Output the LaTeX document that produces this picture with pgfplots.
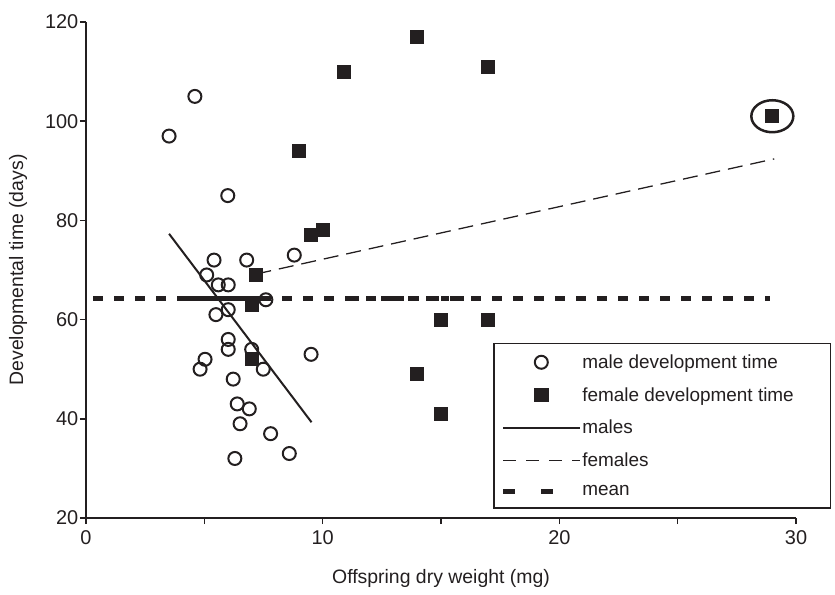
\documentclass[border=0pt]{standalone}
\usepackage{pgfplots}
\pgfplotsset{compat=1.18}
\usepackage{fontspec}
\setmainfont{Liberation Sans}
\definecolor{ink}{RGB}{35,31,32}
\begin{document}
\begin{tikzpicture}
\begin{axis}[
  at={(0,0)}, anchor=south west,
  scale only axis, width=710bp, height=496bp,
  xmin=0, xmax=30, ymin=20, ymax=120,
  axis x line*=bottom, axis y line*=left,
  xtick={0,5,...,30}, xticklabels={0,,10,,20,,30},
  ytick={20,40,...,120},
  tick align=outside, major tick length=6bp,
  tick style={line width=1.5bp, ink},
  axis line style={line width=1.8bp, ink},
  /pgf/number format/assume math mode=true,
  ticklabel style={font=\fontsize{20}{24}\selectfont, text=ink},
  yticklabel style={inner xsep=1.5bp},
  xticklabel style={inner ysep=6bp},
  xlabel={Offspring dry weight (mg)},
  ylabel={Developmental time (days)},
  label style={font=\fontsize{19.5}{23}\selectfont, text=ink},
  xlabel style={at={(axis description cs:0.5,-0.121)}, anchor=center},
  ylabel style={at={(axis description cs:-0.0958,0.5)}, anchor=center},
  legend style={at={(axis cs:17.2,55.3)}, anchor=north west, draw=ink, line width=1.5bp,
    fill=white, font=\fontsize{19}{22}\selectfont, text=ink,
    inner xsep=7bp, inner ysep=10bp, row sep=15.5bp,
    nodes={inner sep=1bp},
    /tikz/every even column/.append style={column sep=0bp}},
  legend cell align=left,
]
% legend entries
\addlegendimage{legend image code/.code={\path (0bp,0bp) (77bp,0bp); \draw[ink, line width=2bp, fill=none] (38bp,0bp) circle (6.5bp);}}
\addlegendentry{\makebox[240bp][l]{male development time}}
\addlegendimage{legend image code/.code={\path (0bp,0bp) (77bp,0bp); \fill[ink] (31.5bp,-6.5bp) rectangle (44.5bp,6.5bp);}}
\addlegendentry{female development time}
\addlegendimage{legend image code/.code={\draw[ink, line width=2bp] (0bp,0bp) -- (77bp,0bp);}}
\addlegendentry{males}
\addlegendimage{legend image code/.code={\draw[ink, line width=1.3bp, dash pattern=on 13bp off 10bp] (0bp,0bp) -- (77bp,0bp);}}
\addlegendentry{females}
\addlegendimage{legend image code/.code={\path (0bp,0bp) (77bp,0bp); \draw[ink, line width=5bp, dash pattern=on 12bp off 26bp] (0bp,0bp) -- (52bp,0bp);}}
\addlegendentry{mean}

% mean line
\addplot[forget plot, ink, line width=5bp, dash pattern=on 10bp off 11bp] coordinates {(0.3,64.2)(28.9,64.2)};
\addplot[forget plot, ink, line width=5bp] coordinates {(4.2,64.2)(7.5,64.2)};
\addplot[forget plot, ink, line width=5bp, dash pattern=on 8bp off 7bp] coordinates {(11.2,64.2)(16.0,64.2)};
% regression lines
\addplot[forget plot, ink, line width=2bp] coordinates {(3.51,77.3)(9.53,39.3)};
\addplot[forget plot, ink, line width=1.3bp, dash pattern=on 15bp off 8bp] coordinates {(7.2,69.2)(29.08,92.4)};
% male points
\addplot[forget plot, only marks, mark=o, mark size=6.5bp, mark options={ink, line width=2bp}] coordinates {
(3.51,97)(4.60,105)(5.99,85)(5.41,72)(6.79,72)(8.80,73)(5.10,69)(5.59,67)(6.01,67)
(7.60,64)(5.49,61)(6.01,62)(6.01,56)(6.01,54)(7.0,54)(5.03,52)(4.82,50)(7.49,50)
(9.51,53)(6.22,48)(6.39,43)(6.90,42)(6.51,39)(7.80,37)(6.29,32)(8.59,33)};
% female points
\addplot[forget plot, only marks, mark=square*, mark size=6.5bp, mark options={ink, fill=ink, line width=0pt}] coordinates {
(7.2,69)(7.0,63)(7.0,52)(9.0,94)(9.5,77)(10.0,78)(10.9,110)(14.0,117)(14.0,49)
(15.0,60)(15.0,41)(17.0,111)(17.0,60)(29.0,101)};
% highlighted point
\draw[ink, line width=2.5bp] (axis cs:29.0,101) ellipse [x radius=21bp, y radius=16bp];
\end{axis}
\path[use as bounding box] (-86bp,-77bp) rectangle (749bp,518bp);
\end{tikzpicture}
\end{document}
